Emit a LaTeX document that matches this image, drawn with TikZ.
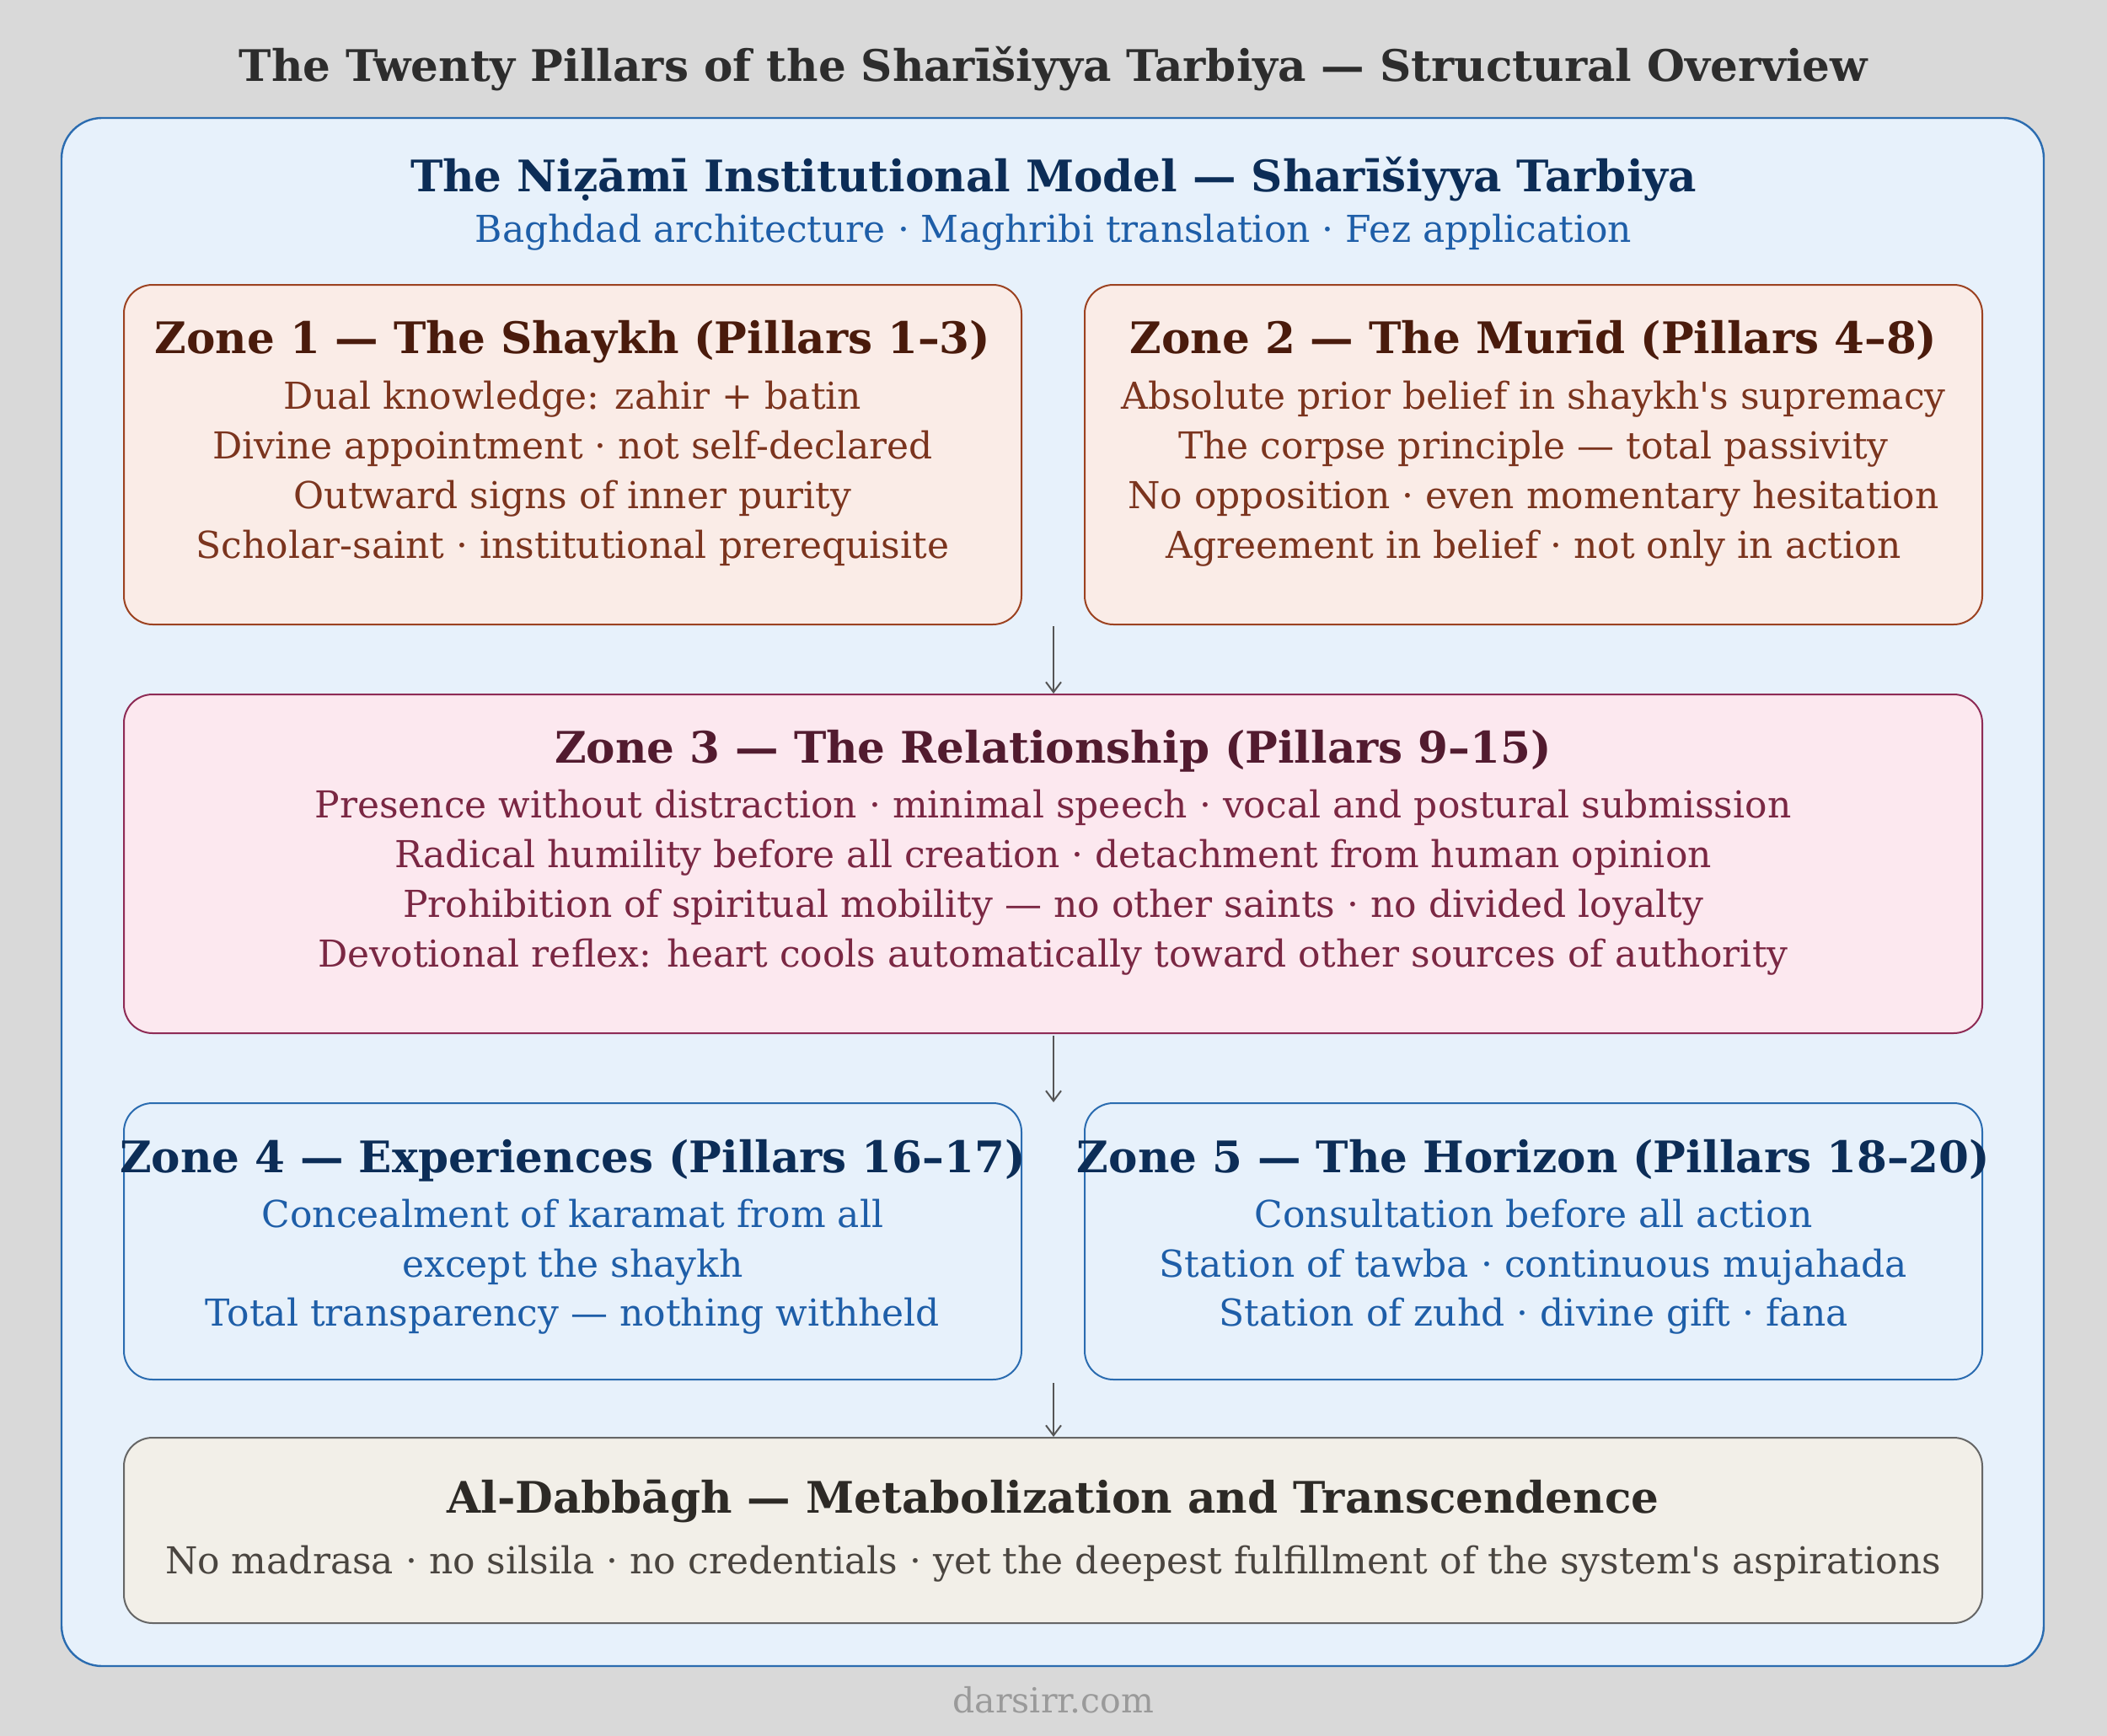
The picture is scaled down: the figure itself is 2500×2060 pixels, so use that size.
\documentclass[tikz,border=0pt]{standalone}
\usepackage{fontspec}
\setmainfont{DejaVu Serif}
\usetikzlibrary{arrows.meta}
\definecolor{bgc}{HTML}{D9D9D9}
\definecolor{titlec}{HTML}{2D2D2D}
\definecolor{outerfill}{HTML}{E7F1FB}
\definecolor{outerdraw}{HTML}{2B6CB0}
\definecolor{navy}{HTML}{0C2D57}
\definecolor{bluet}{HTML}{1E5EA8}
\definecolor{rustfill}{HTML}{FAECE7}
\definecolor{rustdraw}{HTML}{9C4221}
\definecolor{rusttitle}{HTML}{4A1B0C}
\definecolor{rustbody}{HTML}{7B341E}
\definecolor{pinkfill}{HTML}{FCE8EF}
\definecolor{pinkdraw}{HTML}{8E2B55}
\definecolor{pinktitle}{HTML}{521B2F}
\definecolor{pinkbody}{HTML}{7A2743}
\definecolor{sandfill}{HTML}{F2EFE8}
\definecolor{sanddraw}{HTML}{666666}
\definecolor{sandtitle}{HTML}{2D2A26}
\definecolor{sandbody}{HTML}{4A4540}
\definecolor{footc}{HTML}{9A9A9A}
\definecolor{arrc}{HTML}{555555}
\tikzset{
  zbox/.style={rectangle, rounded corners=17pt, line width=1pt, inner sep=0pt},
  ttl/.style={anchor=base, font=\fontsize{25.8pt}{30pt}\selectfont\bfseries, inner sep=0pt},
  bdy/.style={anchor=base, font=\fontsize{22pt}{26pt}\selectfont, inner sep=0pt},
  ftr/.style={anchor=base, font=\fontsize{20.5pt}{24pt}\selectfont, inner sep=0pt},
  arr/.style={draw=arrc, line width=1pt, -{Straight Barb[length=6pt,width=9pt]}},
}
\begin{document}
\begin{tikzpicture}[x=0.5pt,y=-0.5pt]
\fill[bgc] (0,0) rectangle (2500,2060);
\useasboundingbox (0,0) rectangle (2500,2060);
\node[ttl, text=titlec] (title) at (1250,97) {The Twenty Pillars of the Sharīšiyya Tarbiya — Structural Overview};
\node[zbox, rounded corners=24pt, fill=outerfill, draw=outerdraw, line width=1.2pt, minimum width=1176pt, minimum height=918.5pt] (outer) at (1249,1058.5) {};
\node[ttl, text=navy] (head) at (1250,228) {The Niẓāmī Institutional Model — Sharīšiyya Tarbiya};
\node[bdy, text=bluet] (sub) at (1250,287) {Baghdad architecture · Maghribi translation · Fez application};
% Zone 1
\node[zbox, fill=rustfill, draw=rustdraw, minimum width=532.5pt, minimum height=201.5pt] (z1) at (679.5,539.5) {};
\node[ttl, text=rusttitle] (z1t) at (679.5,419) {Zone 1 — The Shaykh (Pillars 1–3)};
\node[bdy, text=rustbody] (z1a) at (679.5,485) {Dual knowledge: zahir + batin};
\node[bdy, text=rustbody] (z1b) at (679.5,544) {Divine appointment · not self-declared};
\node[bdy, text=rustbody] (z1c) at (679.5,603) {Outward signs of inner purity};
\node[bdy, text=rustbody] (z1d) at (679.5,662) {Scholar-saint · institutional prerequisite};
% Zone 2
\node[zbox, fill=rustfill, draw=rustdraw, minimum width=532.5pt, minimum height=201.5pt] (z2) at (1819.5,539.5) {};
\node[ttl, text=rusttitle] (z2t) at (1819.5,419) {Zone 2 — The Murīd (Pillars 4–8)};
\node[bdy, text=rustbody] (z2a) at (1819.5,485) {Absolute prior belief in shaykh\textquotesingle s supremacy};
\node[bdy, text=rustbody] (z2b) at (1819.5,544) {The corpse principle — total passivity};
\node[bdy, text=rustbody] (z2c) at (1819.5,603) {No opposition · even momentary hesitation};
\node[bdy, text=rustbody] (z2d) at (1819.5,662) {Agreement in belief · not only in action};
% Zone 3
\node[zbox, fill=pinkfill, draw=pinkdraw, minimum width=1102.5pt, minimum height=201pt] (z3) at (1249.5,1025) {};
\node[ttl, text=pinktitle] (z3t) at (1249.5,905) {Zone 3 — The Relationship (Pillars 9–15)};
\node[bdy, text=pinkbody] (z3a) at (1249.5,970) {Presence without distraction · minimal speech · vocal and postural submission};
\node[bdy, text=pinkbody] (z3b) at (1249.5,1029) {Radical humility before all creation · detachment from human opinion};
\node[bdy, text=pinkbody] (z3c) at (1249.5,1088) {Prohibition of spiritual mobility — no other saints · no divided loyalty};
\node[bdy, text=pinkbody] (z3d) at (1249.5,1147) {Devotional reflex: heart cools automatically toward other sources of authority};
% Zone 4
\node[zbox, fill=outerfill, draw=outerdraw, minimum width=532.5pt, minimum height=164pt] (z4) at (679.5,1473) {};
\node[ttl, text=navy] (z4t) at (679.5,1391) {Zone 4 — Experiences (Pillars 16–17)};
\node[bdy, text=bluet] (z4a) at (679.5,1456) {Concealment of karamat from all};
\node[bdy, text=bluet] (z4b) at (679.5,1515) {except the shaykh};
\node[bdy, text=bluet] (z4c) at (679.5,1573) {Total transparency — nothing withheld};
% Zone 5
\node[zbox, fill=outerfill, draw=outerdraw, minimum width=532.5pt, minimum height=164pt] (z5) at (1819.5,1473) {};
\node[ttl, text=navy] (z5t) at (1819.5,1391) {Zone 5 — The Horizon (Pillars 18–20)};
\node[bdy, text=bluet] (z5a) at (1819.5,1456) {Consultation before all action};
\node[bdy, text=bluet] (z5b) at (1819.5,1515) {Station of tawba · continuous mujahada};
\node[bdy, text=bluet] (z5c) at (1819.5,1573) {Station of zuhd · divine gift · fana};
% Zone 6
\node[zbox, fill=sandfill, draw=sanddraw, minimum width=1102.5pt, minimum height=110pt] (z6) at (1249.5,1816) {};
\node[ttl, text=sandtitle] (z6t) at (1249.5,1795) {Al-Dabbāgh — Metabolization and Transcendence};
\node[bdy, text=sandbody] (z6a) at (1249.5,1867) {No madrasa · no silsila · no credentials · yet the deepest fulfillment of the system\textquotesingle s aspirations};
% footer
\node[ftr, text=footc] (foot) at (1250,2032) {darsirr.com};
% arrows
\coordinate (a1) at (1250,743);
\coordinate (a2) at (1250,1229);
\coordinate (a3) at (1250,1641);
\draw[arr] (a1) -- (a1 |- z3.north);
\draw[arr] (a2) -- (a2 |- z4.north);
\draw[arr] (a3) -- (a3 |- z6.north);
\end{tikzpicture}
\end{document}
